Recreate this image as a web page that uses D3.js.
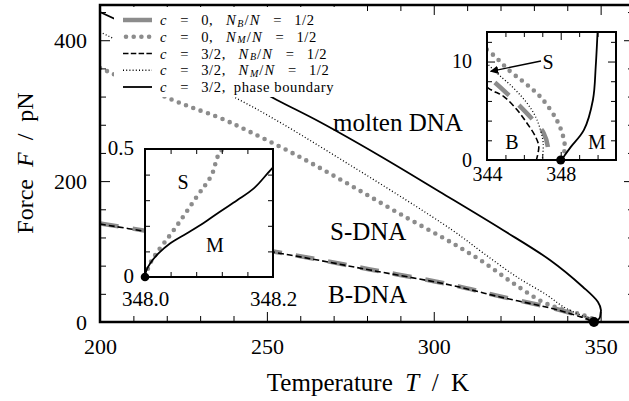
<!DOCTYPE html>
<html><head><meta charset="utf-8">
<script src="https://cdn.jsdelivr.net/npm/d3@7"></script>
<style>
body{margin:0;background:#fff}
svg{display:block;background:#fff}
text{font-family:"Liberation Serif","Times New Roman",serif;fill:#000}
</style>
</head><body>
<svg id="c" width="629" height="401"></svg>
<script>
// ---------------- data (T in K, F in pN) ----------------
// c = 0, N_B/N = 1/2  (thick grey dashed)
const grayDashT = [200, 211.1, 256.9, 280.9, 304.9, 319.9, 334.8, 340.5, 344.0, 344.35, 345.44, 346.58, 347.08, 347.3, 347.3];
const grayDashF = [140, 131.5, 96, 74.6, 53.3, 36.3, 20.7, 13.5, 8.5, 8.0, 6.12, 3.9, 2.72, 1.36, 0];
// c = 0, N_M/N = 1/2  (grey dots)
const grayDotT = [200, 224, 236, 244.9, 259.9, 274.9, 289.9, 305.5, 314.8, 323.7, 332.7, 338.7, 344.0, 345.26, 346.17, 347.0, 347.8, 348.1, 348.22, 348.2, 348.14, 348.116, 348.104, 348.081, 348.044, 348.02, 348.008, 348.0];
const grayDotF = [360.6, 310.9, 289.6, 270, 234.2, 194.5, 153.3, 112.2, 85.2, 55.4, 28.4, 17.5, 11.2, 9.0, 7.65, 6.2, 4.0, 2.6, 1.5, 0.9, 0.55, 0.483, 0.398, 0.314, 0.18, 0.1, 0.053, 0];
// c = 3/2, N_B/N = 1/2  (black dashed)
const blackDashT = [200, 211.1, 256.9, 280.9, 304.9, 319.9, 334.8, 340.5, 344.07, 344.9, 345.63, 346.17, 346.63, 346.81, 346.68];
const blackDashF = [139.1, 130.6, 95.1, 73.8, 52.5, 35.5, 19.9, 12.5, 7.3, 6.46, 5.1, 3.74, 2.38, 1.36, 0];
// c = 3/2, N_M/N = 1/2  (black dotted)
const blackDotT = [200, 221, 245.8, 274.9, 305.5, 314.8, 324.9, 333.9, 338.7, 344.07, 345.44, 346.17, 346.63, 346.9, 347.05, 347.0];
const blackDotF = [411.7, 363.4, 305.2, 222.9, 130.6, 98.0, 63.9, 38.3, 22, 9.69, 7.31, 5.78, 4.42, 3.06, 1.7, 0];
// c = 3/2, phase boundary  (solid)
const boundaryT = [200, 218, 236, 253, 265.9, 283.9, 301.9, 320.7, 334.8, 344.7, 349.2, 350.1, 350.0, 349.9, 349.75, 349.26, 348.55, 348.2, 348.17, 348.144, 348.117, 348.091, 348.065, 348.039, 348.021, 348.008, 348.002, 348.0];
const boundaryF = [440, 400, 357.7, 315.2, 283.9, 235.7, 184.6, 130.6, 88.0, 49.7, 28.4, 17, 13, 9.5, 6.12, 3.06, 1.33, 0.428, 0.346, 0.30, 0.255, 0.21, 0.17, 0.131, 0.092, 0.053, 0.025, 0];
// critical point
const criticalT = [348.0];
const criticalF = [0];

// ticks
const mainXMajor = [200, 250, 300, 350];
const mainXMinor = [210, 220, 230, 240, 260, 270, 280, 290, 310, 320, 330, 340, 360];
const mainYMajor = [0, 200, 400];
const mainYMinor = [40, 80, 120, 160, 240, 280, 320, 360, 440];
const trXMajor = [344, 348];
const trXMinor = [345, 346, 347, 349, 350];
const trYMajor = [0, 10];
const trYMinor = [2, 4, 6, 8, 12];
const blXMajor = [348.0, 348.2];
const blXMinor = [348.04, 348.08, 348.12, 348.16];
const blYMajor = [0, 0.5];
const blYMinor = [0.1, 0.2, 0.3, 0.4];

// legend (segments: i = italic, s = italic subscript)
const SP = "\u2002\u2005";
const legendRows = [
  [["c","i"],[SP+"="+SP+"0,"+SP],["N","i"],["B","s"],["/"],["N","i"],[SP+"="+SP+"1/2"]],
  [["c","i"],[SP+"="+SP+"0,"+SP],["N","i"],["M","s"],["/"],["N","i"],[SP+"="+SP+"1/2"]],
  [["c","i"],[SP+"="+SP+"3/2,"+SP],["N","i"],["B","s"],["/"],["N","i"],[SP+"="+SP+"1/2"]],
  [["c","i"],[SP+"="+SP+"3/2,"+SP],["N","i"],["M","s"],["/"],["N","i"],[SP+"="+SP+"1/2"]],
  [["c","i"],[SP+"="+SP+"3/2,\u2002phase boundary"]]
];

// ---------------- styles ----------------
const GRAY = "#8c8c8c";
const seriesList = [
  {T: grayDashT, F: grayDashF, stroke: GRAY, width: 4.5, dash: "19 14", cap: "butt", legendDash: null},
  {T: grayDotT, F: grayDotF, stroke: GRAY, width: 4.6, dash: "0 7.8", cap: "round", legendDash: "0 7.7"},
  {T: blackDashT, F: blackDashF, stroke: "#000", width: 1.6, dash: "6 3", cap: "butt", legendDash: "5.5 2.3"},
  {T: blackDotT, F: blackDotF, stroke: "#000", width: 1.3, dash: "1 2.2", cap: "butt", legendDash: "1 2.2"},
  {T: boundaryT, F: boundaryF, stroke: "#000", width: 1.8, dash: null, cap: "butt", legendDash: null}
];

const svg = d3.select("#c");
const FONT = '"Liberation Serif","Times New Roman",serif';

const mainS = {x: d3.scaleLinear([200, 360], [100, 634]), y: d3.scaleLinear([0, 450], [322, 5])};
const trS = {x: d3.scaleLinear([344, 351], [487, 616]), y: d3.scaleLinear([0, 13], [160, 32])};
const blS = {x: d3.scaleLinear([348.0, 348.2], [145, 273]), y: d3.scaleLinear([0, 0.5], [277, 149])};

const defs = svg.append("defs");
function clipFor(id, s) {
  const [x0, x1] = s.x.range(), [y0, y1] = s.y.range();
  defs.append("clipPath").attr("id", id).append("rect")
    .attr("x", x0).attr("y", y1).attr("width", x1 - x0).attr("height", y0 - y1);
}
clipFor("clipMain", mainS); clipFor("clipTR", trS); clipFor("clipBL", blS);

function drawSeries(g, s, clipId) {
  const line = d3.line().x(d => s.x(d[0])).y(d => s.y(d[1])).curve(d3.curveCatmullRom.alpha(0.5));
  const cg = g.append("g").attr("clip-path", `url(#${clipId})`);
  seriesList.forEach(se => {
    const pts = se.T.map((t, i) => [t, se.F[i]]);
    cg.append("path").attr("d", line(pts)).attr("fill", "none")
      .attr("stroke", se.stroke).attr("stroke-width", se.width)
      .attr("stroke-dasharray", se.dash).attr("stroke-linecap", se.cap)
      .attr("stroke-linejoin", "round");
  });
}

function drawCritical(g, s, r) {
  g.selectAll(null).data(criticalT.map((t, i) => [t, criticalF[i]])).enter().append("circle")
    .attr("cx", d => s.x(d[0])).attr("cy", d => s.y(d[1])).attr("r", r).attr("fill", "#000");
}

function frameAxes(g, s, o) {
  const [x0, x1] = s.x.range(), [y0, y1] = s.y.range();
  const mk = (axis, tr, vals, size, fmt, pad) => {
    const a = g.append("g").attr("transform", tr)
      .call(axis.tickValues(vals).tickSize(-size).tickPadding(pad || 3).tickFormat(fmt || ""));
    a.select(".domain").remove();
    a.selectAll("line").attr("stroke", "#000").attr("stroke-width", o.tw);
    a.attr("font-family", FONT).attr("font-size", o.fs);
    a.selectAll("text").attr("fill", "#000");
    if (!fmt) a.selectAll("text").remove();
    return a;
  };
  mk(d3.axisBottom(s.x), `translate(0,${y0})`, o.xMinor, o.minor);
  mk(d3.axisBottom(s.x), `translate(0,${y0})`, o.xMajor, o.major, o.fmtX, o.padX);
  mk(d3.axisTop(s.x), `translate(0,${y1})`, o.xMinor, o.minor);
  mk(d3.axisTop(s.x), `translate(0,${y1})`, o.xMajor, o.major);
  mk(d3.axisLeft(s.y), `translate(${x0},0)`, o.yMinor, o.minor);
  const yl = mk(d3.axisLeft(s.y), `translate(${x0},0)`, o.yMajor, o.major, o.fmtY, o.padY);
  if (o.ydy) yl.selectAll("text").attr("dy", o.ydy);
  mk(d3.axisRight(s.y), `translate(${x1},0)`, o.yMinor, o.minor);
  mk(d3.axisRight(s.y), `translate(${x1},0)`, o.yMajor, o.major);
  g.append("rect").attr("x", x0).attr("y", y1).attr("width", x1 - x0).attr("height", y0 - y1)
    .attr("fill", "none").attr("stroke", "#000").attr("stroke-width", o.sw);
}

// ---------------- main plot ----------------
const gMain = svg.append("g");
drawSeries(gMain, mainS, "clipMain");
drawCritical(gMain, mainS, 5);

// legend
const gLeg = svg.append("g");
gLeg.append("rect").attr("x", 114).attr("y", 7).attr("width", 236).attr("height", 90).attr("fill", "#fff");
const legY0 = 20, legStep = 16.75, legFs = 14.6, legSubFs = 10;
legendRows.forEach((row, i) => {
  const se = seriesList[i], y = legY0 + i * legStep;
  gLeg.append("line").attr("x1", se.cap === "round" ? 126 : 123).attr("x2", 152).attr("y1", y).attr("y2", y)
    .attr("stroke", se.stroke).attr("stroke-width", se.width)
    .attr("stroke-dasharray", se.legendDash).attr("stroke-linecap", se.cap);
  let x = 160;
  row.forEach(([str, st]) => {
    const t = gLeg.append("text").attr("x", x).attr("y", y + 5).attr("font-size", legFs)
      .attr("letter-spacing", 0.6).attr("xml:space", "preserve").text(str);
    if (st === "i") t.attr("font-style", "italic");
    if (st === "s") t.attr("font-style", "italic").attr("font-size", legSubFs).attr("y", y + 6.5);
    x += t.node().getComputedTextLength() + (st === "i" ? 1 : 0.5);
  });
});

frameAxes(gMain, mainS, {xMajor: mainXMajor, xMinor: mainXMinor, yMajor: mainYMajor, yMinor: mainYMinor,
  major: 10, minor: 6, tw: 1, sw: 2.5, fs: 22, padX: 16, padY: 13, fmtX: d3.format("d"), fmtY: d3.format("d")});

// region labels
const regionLabels = [["molten DNA", 333, 131], ["S-DNA", 330, 240], ["B-DNA", 328, 303]];
gMain.selectAll(null).data(regionLabels).enter().append("text")
  .attr("x", d => d[1]).attr("y", d => d[2]).attr("font-size", 25).text(d => d[0]);

// axis titles
const xt = svg.append("text").attr("x", 368).attr("y", 391).attr("text-anchor", "middle").attr("font-size", 25)
  .attr("xml:space", "preserve");
xt.append("tspan").text("Temperature\u2002");
xt.append("tspan").attr("font-style", "italic").text("T");
xt.append("tspan").text("\u2002/\u2002K");
const yt = svg.append("text").attr("transform", "translate(33,163) rotate(-90)").attr("text-anchor", "middle")
  .attr("font-size", 24).attr("xml:space", "preserve");
yt.append("tspan").text("Force\u2002");
yt.append("tspan").attr("font-style", "italic").text("F");
yt.append("tspan").text("\u2002/\u2002pN");

// ---------------- inset top right ----------------
const gTR = svg.append("g");
gTR.append("rect").attr("x", 487).attr("y", 32).attr("width", 129).attr("height", 128).attr("fill", "#fff");
drawSeries(gTR, trS, "clipTR");
frameAxes(gTR, trS, {xMajor: trXMajor, xMinor: trXMinor, yMajor: trYMajor, yMinor: trYMinor,
  major: 8, minor: 5, tw: 1, sw: 2, fs: 20, padX: 7, padY: 15, fmtX: d3.format("d"), fmtY: d3.format("d")});
drawCritical(gTR, trS, 4.5);
const trLabels = [["S", 548, 69], ["B", 512, 149], ["M", 597, 149]];
gTR.selectAll(null).data(trLabels).enter().append("text").attr("x", d => d[1]).attr("y", d => d[2])
  .attr("text-anchor", "middle").attr("font-size", 20).text(d => d[0]);
// arrow from "S" label to the S-DNA sliver
defs.append("marker").attr("id", "arr").attr("viewBox", "0 0 10 10").attr("refX", 9).attr("refY", 5)
  .attr("markerWidth", 6).attr("markerHeight", 6).attr("orient", "auto")
  .append("path").attr("d", "M0,0L10,5L0,10z").attr("fill", "#000");
gTR.append("line").attr("x1", 541).attr("y1", 61).attr("x2", trS.x(344.2)).attr("y2", trS.y(9.0))
  .attr("stroke", "#000").attr("stroke-width", 1.4).attr("marker-end", "url(#arr)");

// ---------------- inset bottom left ----------------
const gBL = svg.append("g");
gBL.append("rect").attr("x", 145).attr("y", 149).attr("width", 128).attr("height", 128).attr("fill", "#fff");
drawSeries(gBL, blS, "clipBL");
frameAxes(gBL, blS, {xMajor: blXMajor, xMinor: blXMinor, yMajor: blYMajor, yMinor: blYMinor,
  major: 8, minor: 5, tw: 1, sw: 2, fs: 21, padX: 14, padY: 11, ydy: "0.28em",
  fmtX: d3.format(".1f"), fmtY: d => d === 0 ? "0" : d3.format(".1f")(d)});
drawCritical(gBL, blS, 4.3);
const blLabels = [["S", 183, 189], ["M", 215, 252]];
gBL.selectAll(null).data(blLabels).enter().append("text").attr("x", d => d[1]).attr("y", d => d[2])
  .attr("text-anchor", "middle").attr("font-size", 20).text(d => d[0]);
</script>
</body></html>
